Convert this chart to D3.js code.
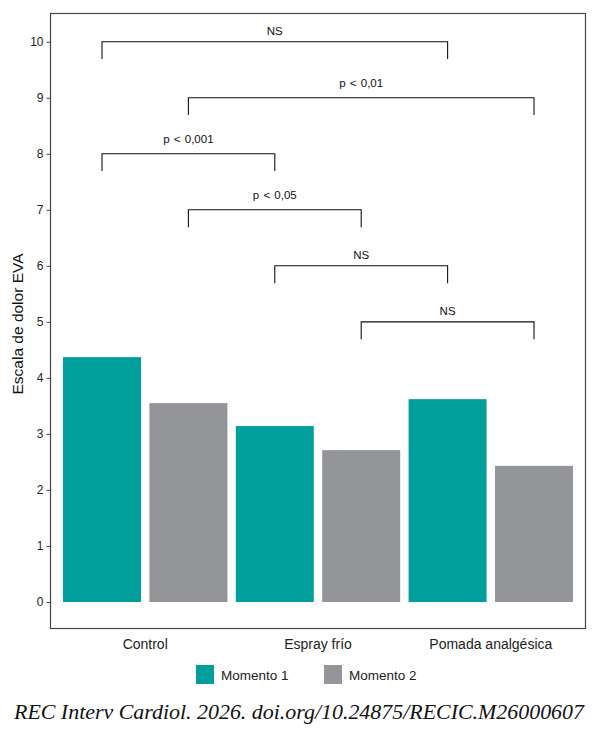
<!DOCTYPE html>
<html>
<head>
<meta charset="utf-8">
<script src="https://cdn.jsdelivr.net/npm/d3@7"></script>
<style>
  html, body { margin: 0; padding: 0; background: #fff; }
  svg { display: block; }
</style>
</head>
<body>
<svg id="chart" width="599" height="734"></svg>
<script>
// ---- Data ----
const categories = ["Control", "Espray frío", "Pomada analgésica"];
const seriesNames = ["Momento 1", "Momento 2"];
const momento1 = [4.37, 3.14, 3.62];
const momento2 = [3.55, 2.71, 2.43];
const yTicks = [0, 1, 2, 3, 4, 5, 6, 7, 8, 9, 10];
const compFromCat = ["Control", "Control", "Control", "Control", "Espray frío", "Espray frío"];
const compToCat = ["Pomada analgésica", "Pomada analgésica", "Espray frío", "Espray frío", "Pomada analgésica", "Pomada analgésica"];
const compSeries = ["Momento 1", "Momento 2", "Momento 1", "Momento 2", "Momento 1", "Momento 2"];
const compLevel = [10, 9, 8, 7, 6, 5];
const compLabel = ["NS", "p < 0,01", "p < 0,001", "p < 0,05", "NS", "NS"];
const yTitle = "Escala de dolor EVA";
const caption = "REC Interv Cardiol. 2026. doi.org/10.24875/RECIC.M26000607";

const colors = {"Momento 1": "#009f9b", "Momento 2": "#939598"};

// ---- Layout ----
const svg = d3.select("#chart");
const panel = {left: 50.5, top: 13.5, right: 585.5, bottom: 628.5};
const font = "'Liberation Sans', Arial, Helvetica, sans-serif";

const y = d3.scaleLinear().domain([-0.464, 10.512]).range([628, 13]);
const x = d3.scaleBand().domain(categories).range([58.8, 577.2]).paddingInner(0).paddingOuter(0);
const xs = d3.scaleBand().domain(seriesNames).range([0, x.bandwidth()])
  .paddingInner(0.0972).paddingOuter(0.0486);

const rows = [];
categories.forEach((c, i) => {
  rows.push({cat: c, s: "Momento 1", v: momento1[i]});
  rows.push({cat: c, s: "Momento 2", v: momento2[i]});
});

// bars
svg.append("g").selectAll("rect").data(rows).join("rect")
  .attr("x", d => x(d.cat) + xs(d.s))
  .attr("width", xs.bandwidth())
  .attr("y", d => y(d.v))
  .attr("height", d => y(0) - y(d.v))
  .attr("fill", d => colors[d.s]);

// significance brackets
const legLen = 0.31;
const bx = (c, s) => x(c) + xs(s) + xs.bandwidth() / 2;
const comps = compLevel.map((lv, i) => ({
  x1: bx(compFromCat[i], compSeries[i]),
  x2: bx(compToCat[i], compSeries[i]),
  lv, label: compLabel[i]
}));
const gB = svg.append("g");
gB.selectAll("path").data(comps).join("path")
  .attr("d", d => `M${d.x1},${y(d.lv - legLen)}V${y(d.lv)}H${d.x2}V${y(d.lv - legLen)}`)
  .attr("fill", "none").attr("stroke", "#111").attr("stroke-width", 1.1);
gB.selectAll("text").data(comps).join("text")
  .attr("x", d => (d.x1 + d.x2) / 2)
  .attr("y", d => y(d.lv) - (d.label.startsWith("p") ? 10.5 : 6.5))
  .attr("text-anchor", "middle")
  .attr("font-family", font).attr("font-size", 11.5).attr("fill", "#111")
  .attr("word-spacing", 1)
  .text(d => d.label);

// panel border
svg.append("rect")
  .attr("x", panel.left).attr("y", panel.top)
  .attr("width", panel.right - panel.left).attr("height", panel.bottom - panel.top)
  .attr("fill", "none").attr("stroke", "#444").attr("stroke-width", 1.2);

// y axis
const yAxis = d3.axisLeft(y).tickValues(yTicks).tickSize(4).tickPadding(3).tickFormat(d3.format("d"));
const gy = svg.append("g").attr("transform", `translate(${panel.left},0)`).call(yAxis);
gy.select(".domain").remove();
gy.selectAll(".tick line").attr("stroke", "#444");
gy.selectAll(".tick text").attr("font-family", font).attr("font-size", 12).attr("fill", "#222");

// x axis labels
const xAxis = d3.axisBottom(x).tickSize(0).tickPadding(11);
const gx = svg.append("g").attr("transform", `translate(0,${panel.bottom})`).call(xAxis);
gx.select(".domain").remove();
gx.selectAll(".tick text").attr("font-family", font).attr("font-size", 14).attr("fill", "#222");

// y title
svg.append("text")
  .attr("transform", `translate(23,${(panel.top + panel.bottom) / 2 + 3}) rotate(-90)`)
  .attr("text-anchor", "middle")
  .attr("font-family", font).attr("font-size", 15.5).attr("fill", "#111")
  .text(yTitle);

// legend
const legX = [196, 324];
const gL = svg.append("g");
seriesNames.forEach((s, i) => {
  gL.append("rect").attr("x", legX[i]).attr("y", 665).attr("width", 18).attr("height", 19)
    .attr("fill", colors[s]);
  gL.append("text").attr("x", legX[i] + 25).attr("y", 680)
    .attr("font-family", font).attr("font-size", 13.5).attr("fill", "#222")
    .text(s);
});

// caption
svg.append("text")
  .attr("x", 14).attr("y", 719)
  .attr("font-family", "'Liberation Serif', 'DejaVu Serif', serif")
  .attr("font-style", "italic").attr("font-size", 20.5).attr("fill", "#111")
  .attr("textLength", 570).attr("lengthAdjust", "spacingAndGlyphs")
  .text(caption);
</script>
</body>
</html>
